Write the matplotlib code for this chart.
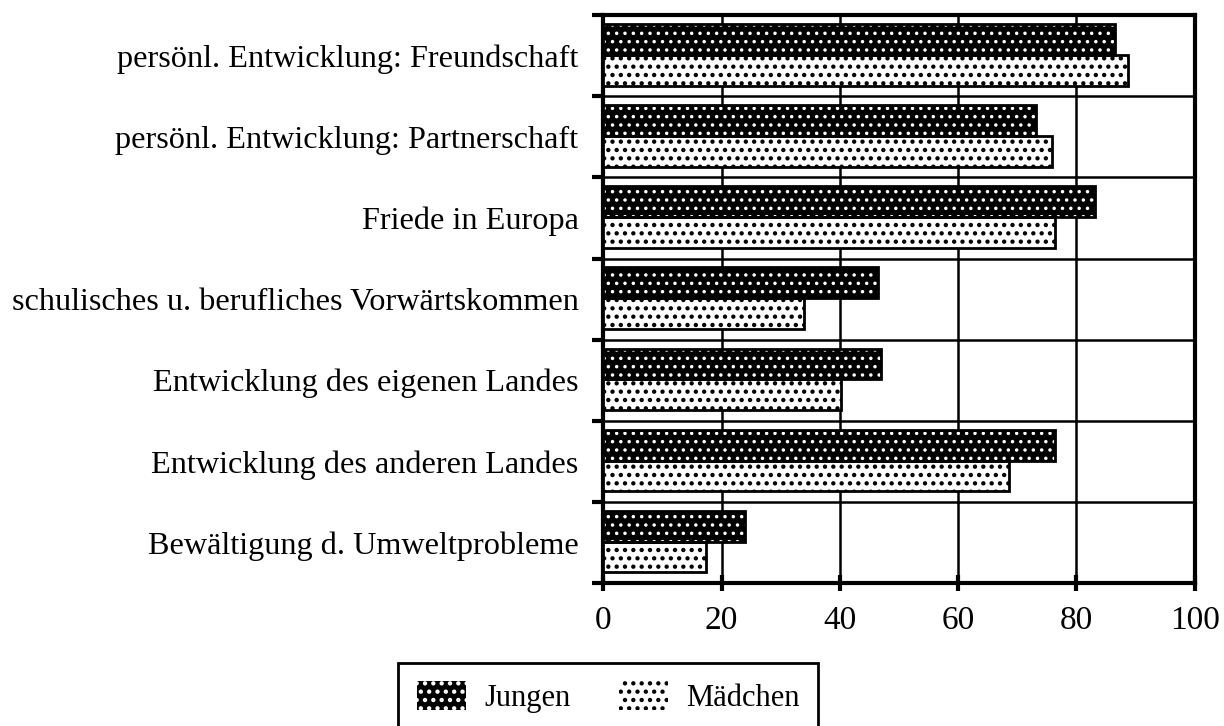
import matplotlib.pyplot as plt
import numpy as np
from matplotlib.patches import Patch

plt.rcParams['font.family'] = ['Liberation Serif', 'DejaVu Serif']

categories = ["persönl. Entwicklung: Freundschaft",
              "persönl. Entwicklung: Partnerschaft",
              "Friede in Europa",
              "schulisches u. berufliches Vorwärtskommen",
              "Entwicklung des eigenen Landes",
              "Entwicklung des anderen Landes",
              "Bewältigung d. Umweltprobleme"]
jungen = [86.6, 73.2, 83.2, 46.5, 47.0, 76.3, 23.9]
maedchen = [88.8, 75.9, 76.3, 34.0, 40.2, 68.6, 17.4]
xticks = [0, 20, 40, 60, 80, 100]

fig = plt.figure(figsize=(12.24, 7.26), dpi=100)
ax = fig.add_axes([0.493, 0.197, 0.483, 0.782])

n = len(categories)
# category i occupies band [i, i+1], first category at the top
y = np.arange(n)
yj = n - y - 0.30
ym = n - y - 0.68
h = 0.38

# dark bars: black face with small white dots
plt.rcParams['hatch.linewidth'] = 1.3
ax.barh(yj, jungen, height=h, color='black', edgecolor='white',
        hatch='..', linewidth=0, zorder=3)
jh = Patch(facecolor='black', edgecolor='white', hatch='..', lw=0)
# light bars: white face with black dots
plt.rcParams['hatch.linewidth'] = 1.9
ax.barh(ym, maedchen, height=h, color='white', edgecolor='black',
        hatch='..', linewidth=0, zorder=3)
mh = Patch(facecolor='white', edgecolor='black', hatch='..', lw=0)

ax.barh(yj, jungen, height=h, fill=False, edgecolor='black',
        linewidth=2, zorder=4)
ax.barh(ym, maedchen, height=h, fill=False, edgecolor='black',
        linewidth=2, zorder=4)

ax.set_xlim(0, 100)
ax.set_ylim(0, n)
ax.set_xticks(xticks)
ax.set_xticklabels([str(t) for t in xticks], fontsize=24)
ax.tick_params(axis='x', direction='inout', length=12, width=3, pad=10)

ax.set_yticks(n - y - 0.5)
ax.set_yticklabels(categories, fontsize=23.2)
ax.tick_params(axis='y', which='major', length=0, pad=18)
ax.set_yticks(np.arange(n + 1), minor=True)
ax.tick_params(axis='y', which='minor', direction='out', length=8, width=3)

for v in xticks[1:]:
    ax.axvline(v, color='black', lw=1.8, zorder=1)
for b in range(1, n):
    ax.axhline(b, color='black', lw=1.8, zorder=1)

for s in ax.spines.values():
    s.set_linewidth(3)

leg = fig.legend([jh, mh], ['Jungen', 'Mädchen'], loc='center',
                 bbox_to_anchor=(0.497, 0.04), ncol=2, fontsize=22,
                 fancybox=False, framealpha=1, edgecolor='black',
                 handlelength=1.6, handleheight=1.1, columnspacing=1.6,
                 borderpad=0.6, handletextpad=0.6)
leg.get_frame().set_linewidth(2)

fig.savefig('out.png', dpi=100)
